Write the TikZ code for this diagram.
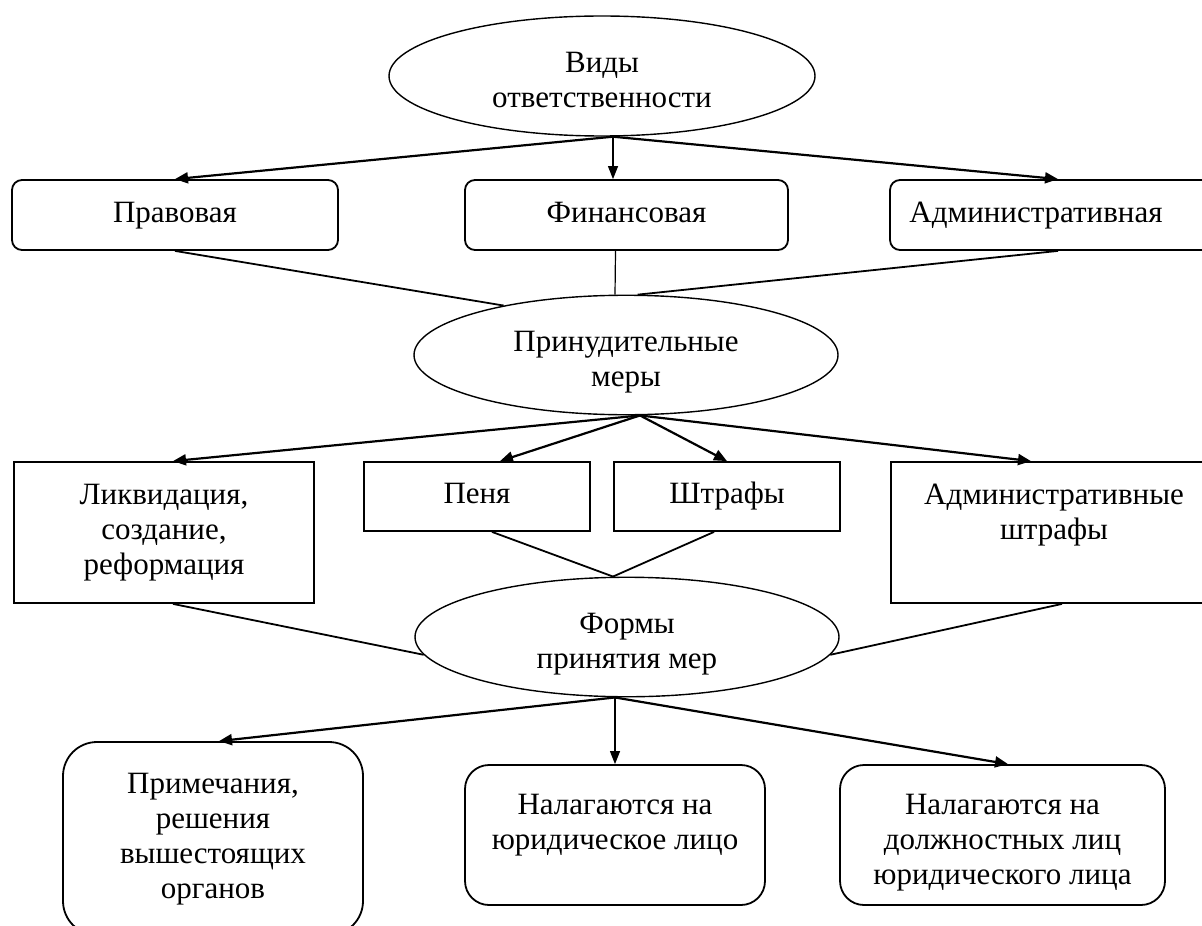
\documentclass[tikz,border=0pt]{standalone}
\usepackage{fontspec}
\setmainfont{Liberation Serif}
\usetikzlibrary{shapes.geometric,arrows.meta,calc}
\newcommand\dnstrut{\rule{0pt}{19.5pt}}
\tikzset{
  base/.style={font=\fontsize{15.5pt}{17.5pt}\selectfont, align=center, inner sep=0pt, draw=black},
  oval/.style={base, ellipse, line width=0.7pt},
  rbox/.style={base, rectangle, rounded corners=5pt, line width=0.9pt},
  sbox/.style={base, rectangle, line width=0.9pt},
  bbox/.style={base, rectangle, rounded corners=12pt, line width=0.9pt},
  arr/.style={line width=1.1pt, -{Triangle[length=6.5pt,width=5.5pt]}},
  varr/.style={line width=0.6pt, -{Triangle[length=6.5pt,width=5pt]}},
  link/.style={line width=0.9pt},
  vlink/.style={line width=0.6pt}
}
\begin{document}
\begin{tikzpicture}[x=0.5pt,y=-0.5pt]
\clip (0,0) rectangle (1202,925);
\fill[white] (0,0) rectangle (1202,925);

% level 1
\node[oval, minimum width=213pt, minimum height=60pt] (v) at (602,76) {\dnstrut Виды\\ответственности\strut};
\node[rbox, minimum width=163pt, minimum height=35pt] (p1) at (175,215) {\strut Правовая};
\node[rbox, minimum width=161.5pt, minimum height=35pt] (p2) at (626.5,215) {\strut Финансовая};
\node[rbox, minimum width=162.5pt, minimum height=35pt] (p3) at (1052.5,215) {\strut Административная\hspace{16.5pt}};

% level 2
\node[oval, minimum width=212pt, minimum height=58pt] (m) at (626,355) {\dnstrut Принудительные\\меры\strut};
\node[sbox, minimum width=150pt, minimum height=70.5pt] (l1) at (164,532.5) {\strut Ликвидация,\\создание,\\реформация\strut};
\node[sbox, minimum width=113pt, minimum height=34.5pt] (l2) at (477,496.5) {\strut Пеня};
\node[sbox, minimum width=113pt, minimum height=34.5pt] (l3) at (727,496.5) {\strut Штрафы};
\node[sbox, minimum width=163pt, minimum height=70.5pt] (l4) at (1054,532.5) {\strut Административные\\штрафы\\\strut};

% level 3
\node[oval, minimum width=212pt, minimum height=59pt] (f) at (627,637) {\dnstrut Формы\\принятия мер\strut};
\node[bbox, rounded corners=17pt, minimum width=150pt, minimum height=96.5pt] (b1) at (213,838.5) {\strut Примечания,\\решения\\вышестоящих\\органов\strut};
\node[bbox, minimum width=150pt, minimum height=70pt] (b2) at (615,835) {\dnstrut Налагаются на\\юридическое лицо\\\strut};
\node[bbox, minimum width=162.5pt, minimum height=70pt] (b3) at (1002.5,835) {\dnstrut Налагаются на\\должностных лиц\\юридического лица\strut};

% arrows from v
\draw[arr] ($(v.south)+(11,0)$) -- (p1.north);
\draw[varr] ($(v.south)+(11,0)$) -- ($(p2.north)+(-13.5,0)$);
\draw[arr] ($(v.south)+(11,0)$) -- ($(p3.north)+(5.5,0)$);

% lines to m
\draw[link] (p1.south) -- (m.158);
\draw[vlink] ($(p2.south)+(-11,0)$) -- ($(m.north)+(-11,0)$);
\draw[link] ($(p3.south)+(5.5,0)$) -- (m.79);

% arrows from m
\draw[arr] ($(m.south)+(14,0)$) -- ($(l1.north)+(9,0)$);
\draw[arr] ($(m.south)+(14,0)$) -- ($(l2.north)+(23,0)$);
\draw[arr] ($(m.south)+(14,0)$) -- (l3.north);
\draw[arr] ($(m.south)+(14,0)$) -- ($(l4.north)+(-23,0)$);

% lines to f
\draw[link] ($(l2.south)+(15,0)$) -- ($(f.north)+(-14,0)$);
\draw[link] ($(l3.south)+(-13,0)$) -- ($(f.north)+(-14,0)$);
\draw[link] ($(l1.south)+(9,0)$) -- (f.185);
\draw[link] ($(l4.south)+(8,0)$) -- (f.-5);

% arrows from f
\draw[arr] ($(f.south)+(-12,0)$) -- ($(b1.north)+(6,0)$);
\draw[varr] ($(f.south)+(-12,0)$) -- (b2.north);
\draw[arr] ($(f.south)+(-12,0)$) -- ($(b3.north)+(5.5,0)$);
\end{tikzpicture}
\end{document}
